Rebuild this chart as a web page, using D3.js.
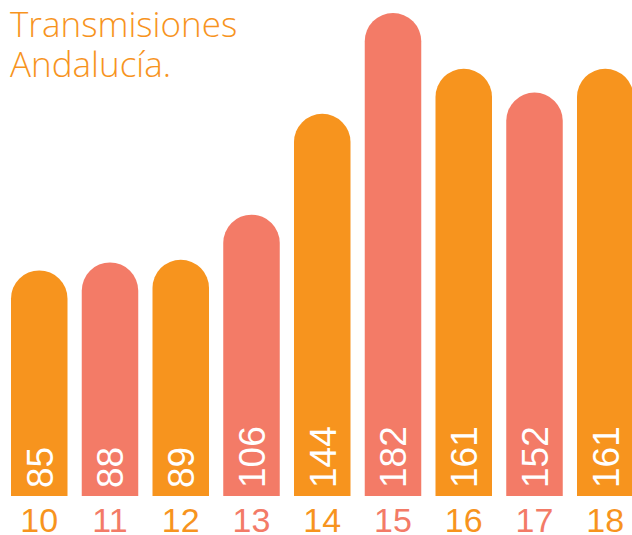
<!DOCTYPE html>
<html>
<head>
<meta charset="utf-8">
<script src="https://cdn.jsdelivr.net/npm/d3@7"></script>
<style>
  html, body { margin: 0; padding: 0; background: #fff; overflow: hidden; }
  svg { display: block; }
</style>
</head>
<body>
<svg id="chart" width="632" height="535"></svg>
<script>
const categories = ["10", "11", "12", "13", "14", "15", "16", "17", "18"];
const values = [85, 88, 89, 106, 144, 182, 161, 152, 161];
const colorKeys = ["a", "b", "a", "b", "a", "b", "a", "b", "a"];
const titleLines = ["Transmisiones", "Andalucía."];

const palette = { a: "#F7941E", b: "#F37B67" };

const svg = d3.select("#chart");

const x = d3.scaleBand()
  .domain(categories)
  .range([11, 633.5])
  .paddingInner(0.2014)
  .paddingOuter(0);

const y = d3.scaleLinear()
  .domain([0, 182])
  .range([496, 13]);

const data = categories.map((c, i) => ({ cat: c, value: values[i], color: palette[colorKeys[i]] }));

function barPath(d) {
  const x0 = x(d.cat), w = x.bandwidth(), r = w / 2;
  const yb = y(0), yt = y(d.value);
  return `M${x0},${yb} L${x0},${yt + r} A${r},${r} 0 0 1 ${x0 + w},${yt + r} L${x0 + w},${yb} Z`;
}

svg.append("g").selectAll("path")
  .data(data)
  .join("path")
  .attr("d", barPath)
  .attr("fill", d => d.color);

// value labels (rotated)
svg.append("g").selectAll("text")
  .data(data)
  .join("text")
  .attr("transform", d => `translate(${x(d.cat) + x.bandwidth() / 2},${y(0) - 8}) rotate(-90)`)
  .attr("dy", "0.36em")
  .attr("text-anchor", "start")
  .attr("font-family", "'Liberation Sans', Arial, sans-serif")
  .attr("font-size", 37)
  .attr("fill", "#fff")
  .text(d => d.value);

// category labels
svg.append("g").selectAll("text")
  .data(data)
  .join("text")
  .attr("x", d => x(d.cat) + x.bandwidth() / 2)
  .attr("y", 532)
  .attr("text-anchor", "middle")
  .attr("font-family", "'Liberation Sans', Arial, sans-serif")
  .attr("font-size", 34)
  .attr("fill", d => d.color)
  .text(d => d.cat);

// title
svg.append("g").selectAll("text")
  .data(titleLines)
  .join("text")
  .attr("x", 10)
  .attr("y", (d, i) => 37 + i * 40)
  .attr("font-family", "'Open Sans', sans-serif")
  .attr("font-weight", 300)
  .attr("font-size", 35)
  .attr("fill", "#F7941E")
  .text(d => d);
</script>
</body>
</html>
